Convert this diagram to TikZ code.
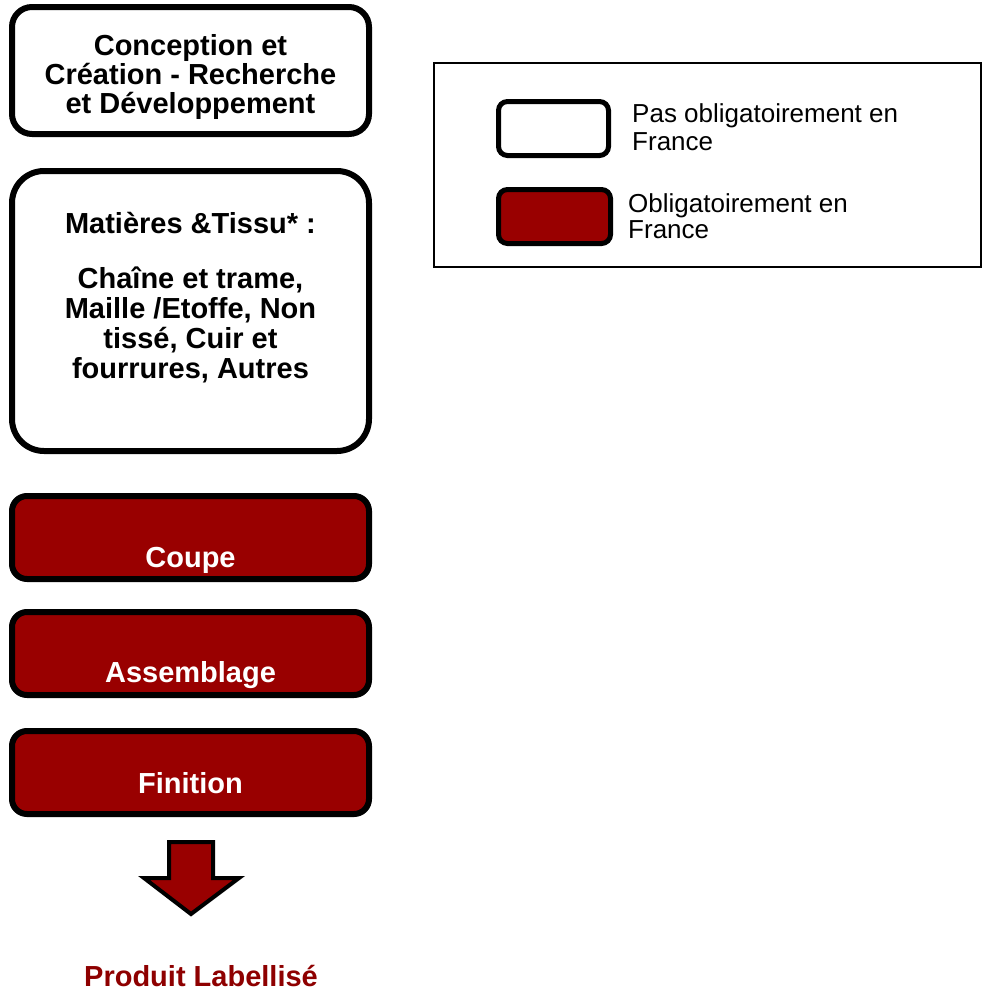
\documentclass[tikz,border=0pt]{standalone}
\usepackage{fontspec}
\setmainfont{Liberation Sans}
\definecolor{dred}{HTML}{990000}
\definecolor{tred}{HTML}{8E0000}
\tikzset{
  stagebox/.style={draw=black, line width=6pt, minimum width=357pt, inner sep=0pt, outer sep=0pt},
  whitebox/.style={stagebox, fill=white},
  redbox/.style={stagebox, fill=dred, rounded corners=15pt},
  boxtext/.style={anchor=base, inner sep=0pt, font=\fontsize{29}{29}\selectfont\bfseries},
  legtext/.style={anchor=base west, inner sep=0pt, font=\fontsize{26}{28}\selectfont},
  legbox/.style={draw=black, line width=5pt, rounded corners=9pt, minimum height=54pt, inner sep=0pt}
}
\begin{document}
\begin{tikzpicture}[x=1pt, y=-1pt]
\useasboundingbox (0,0) rectangle (984,991);
% stage boxes
\node[whitebox, rounded corners=20pt, minimum height=127pt] (conc) at (190.5,70.5) {};
\node[whitebox, rounded corners=32pt, minimum height=280pt] (mat) at (190.5,311) {};
\node[redbox, minimum height=83pt] (coupe) at (190.5,537.5) {};
\node[redbox, minimum height=83pt] (assem) at (190.5,653.5) {};
\node[redbox, minimum height=83pt] (finit) at (190.5,772.5) {};
% texts
\node[boxtext] (concT) at (190.5,55) {\parbox[t]{360pt}{\centering Conception et\\Création - Recherche\\et Développement}};
\node[boxtext, font=\fontsize{29}{30}\selectfont\bfseries] (matT) at (190.5,233) {\parbox[t]{360pt}{\centering Matières \&Tissu* :\\[25pt]Chaîne et trame,\\Maille /Etoffe, Non\\tissé, Cuir et\\fourrures, Autres}};
\node[boxtext, text=white] (coupeT) at (190.5,567) {Coupe};
\node[boxtext, text=white] (assemT) at (190.5,682) {Assemblage};
\node[boxtext, text=white] (finitT) at (190.5,793) {Finition};
% block arrow
\draw[fill=dred, draw=black, line width=4pt] (169,842) -- (213,842) -- (213,878) -- (239,878) -- (191,914) -- (144,878) -- (169,878) -- cycle;
\node[boxtext, text=tred] (prod) at (201,986) {Produit Labellisé};
% legend
\node[draw=black, line width=1.5pt, minimum width=547pt, minimum height=204pt, inner sep=0pt] (legend) at (707.5,165) {};
\node[legbox, fill=white, minimum width=110pt] (legW) at (553.5,128.5) {};
\node[legbox, fill=dred, minimum width=112pt] (legR) at (554.5,216.5) {};
\node[legtext] (legWT) at (632,122) {\parbox[t]{330pt}{\raggedright Pas obligatoirement en\\France}};
\node[legtext, font=\fontsize{26}{26}\selectfont] (legRT) at (628,212) {\parbox[t]{330pt}{\raggedright Obligatoirement en\\France}};
\end{tikzpicture}
\end{document}
